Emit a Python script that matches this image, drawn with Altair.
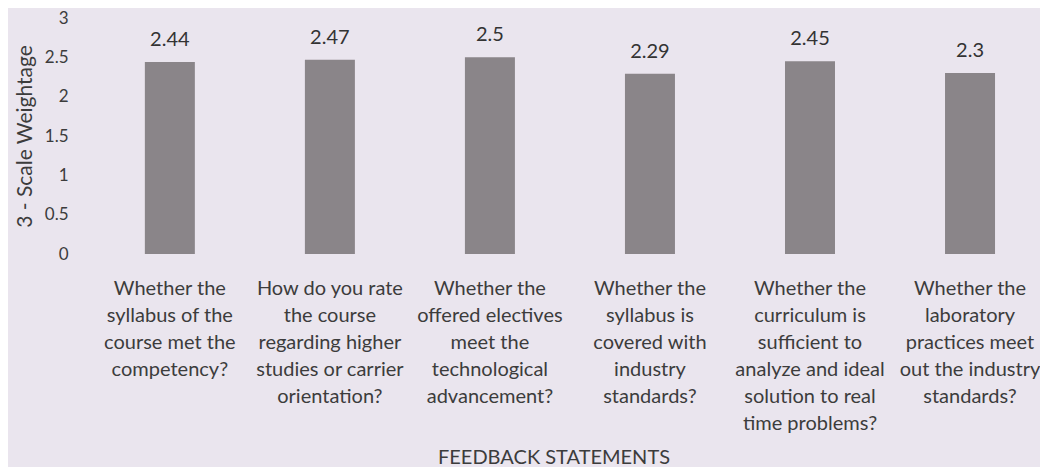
import altair as alt
import pandas as pd

categories = [
    "Whether the|syllabus of the|course met the|competency?",
    "How do you rate|the course|regarding higher|studies or carrier|orientation?",
    "Whether the|offered electives|meet the|technological|advancement?",
    "Whether the|syllabus is|covered with|industry|standards?",
    "Whether the|curriculum is|sufficient to|analyze and ideal|solution to real|time problems?",
    "Whether the|laboratory|practices meet|out the industry|standards?",
]
values = [2.44, 2.47, 2.5, 2.29, 2.45, 2.3]
y_ticks = [0, 0.5, 1, 1.5, 2, 2.5, 3]

df = pd.DataFrame({"cat": categories, "val": values})

FONT = "Lato"
BG = "#eae5ee"
TXT = "#3c3c3c"

x = alt.X(
    "cat:N",
    sort=categories,
    scale=alt.Scale(paddingInner=0.6875, paddingOuter=0.24, align=0.714),
    axis=alt.Axis(
        title="FEEDBACK STATEMENTS",
        labelExpr="split(datum.label, '|')",
        labelAngle=0,
        labelFontSize=20,
        labelLineHeight=27,
        labelColor=TXT,
        labelFont=FONT,
        labelPadding=24,
        labelLimit=220,
        labelOverlap=False,
        domain=False,
        ticks=False,
        titleFont=FONT,
        titleFontSize=20,
        titleFontWeight="normal",
        titleColor=TXT,
        titlePadding=14,
    ),
)
y = alt.Y(
    "val:Q",
    scale=alt.Scale(domain=[0, 3]),
    axis=alt.Axis(
        title="3 - Scale Weightage",
        values=y_ticks,
        labelExpr="format(datum.value, '~g')",
        labelFontSize=17,
        labelColor=TXT,
        labelFont=FONT,
        labelPadding=22,
        labelOverlap=False,
        labelSeparation=0,
        domain=False,
        ticks=False,
        grid=False,
        titleFont=FONT,
        titleFontSize=21,
        titleFontWeight="normal",
        titleColor=TXT,
        titlePadding=9,
    ),
)

bars = alt.Chart(df).mark_bar(color="#8a8589", size=50).encode(x=x, y=y)
text = alt.Chart(df).mark_text(
    dy=-16, baseline="alphabetic", fontSize=20, font=FONT, color="#333333"
).encode(x=x, y=y, text="val:Q")

chart = (
    (bars + text)
    .properties(width=927, height=236, background=BG,
                padding={"left": 6, "top": 1, "right": 0, "bottom": 0})
    .configure_axis(labelOverlap=False)
    .configure_view(stroke=None)
)

chart.save("out.html", embed_options={"renderer": "svg", "actions": False})
